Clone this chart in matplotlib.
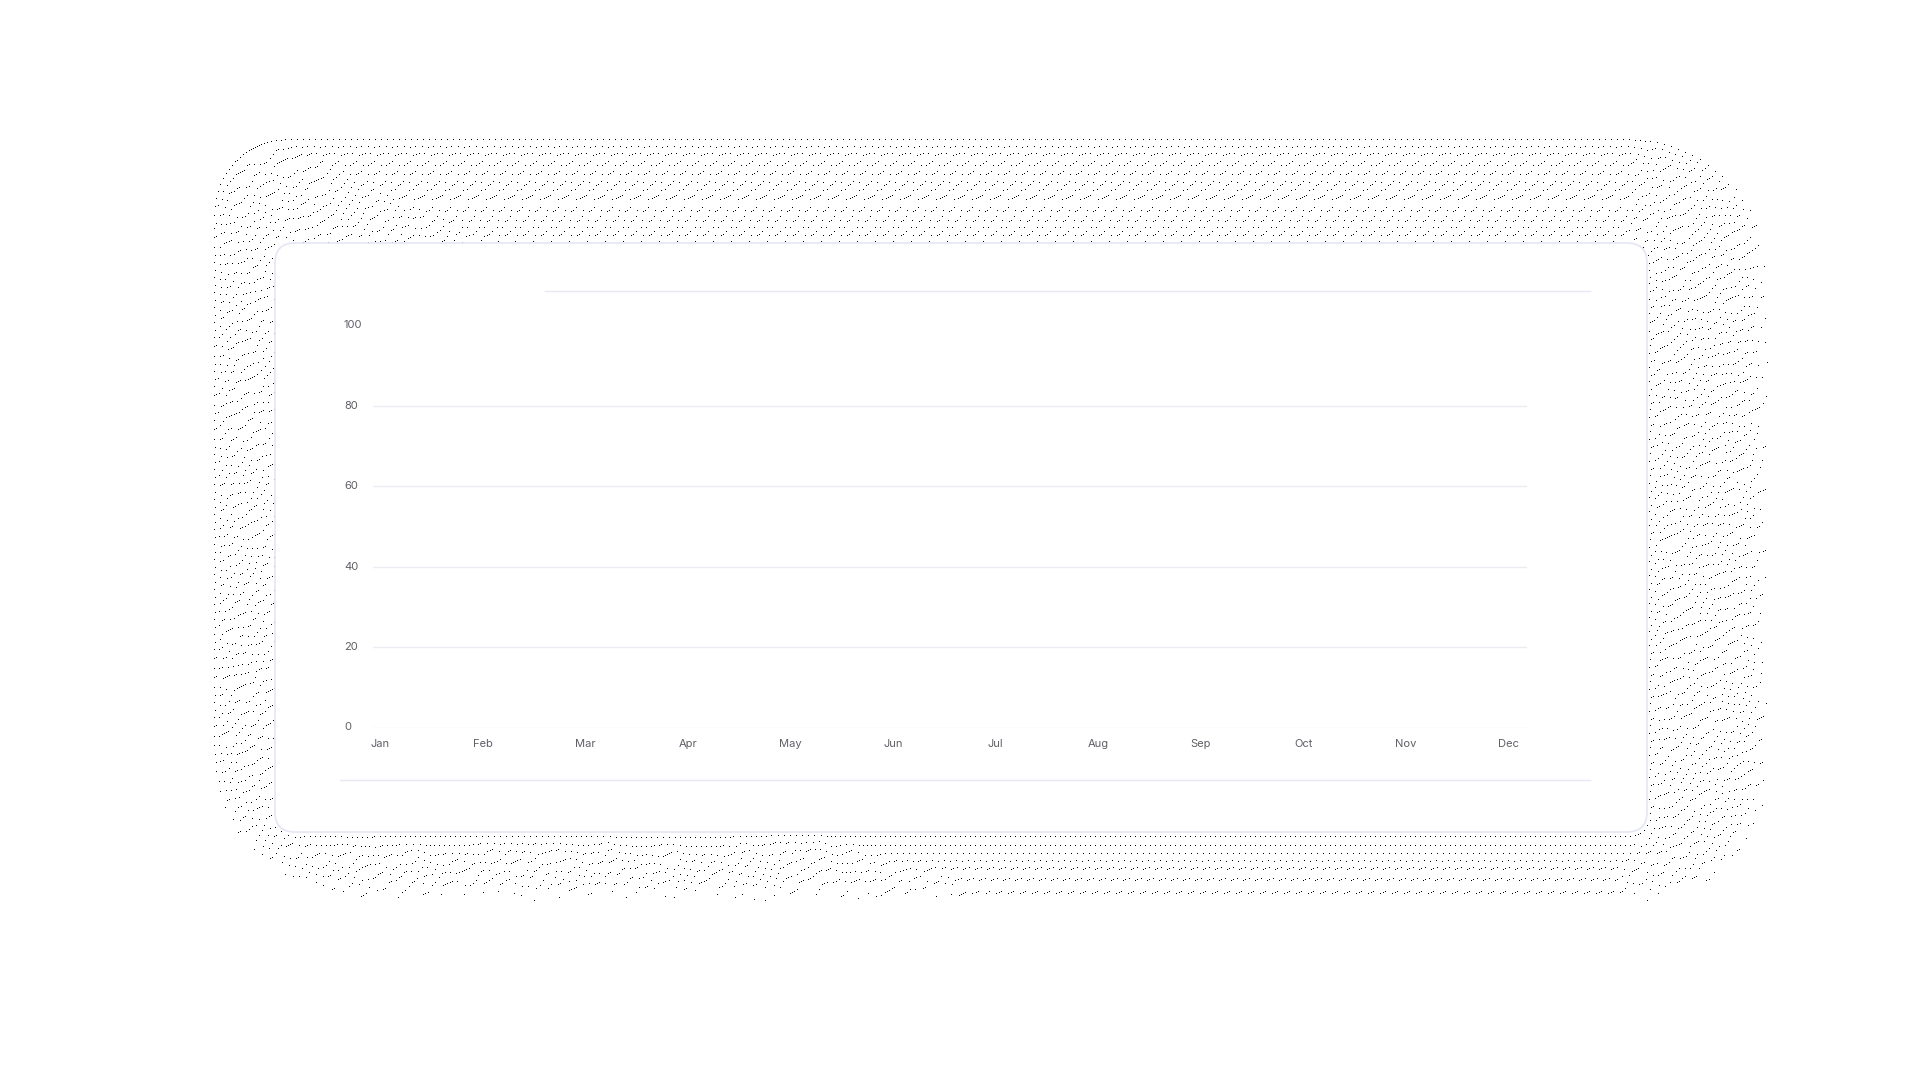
import numpy as np
import matplotlib
matplotlib.use('Agg')
import matplotlib.pyplot as plt
from matplotlib.patches import FancyBboxPatch

# chart content (an empty line chart: only axes, grid and labels are visible)
months = ['Jan', 'Feb', 'Mar', 'Apr', 'May', 'Jun', 'Jul', 'Aug', 'Sep', 'Oct', 'Nov', 'Dec']
y_ticks = [0, 20, 40, 60, 80, 100]
grid_values = [0, 20, 40, 60, 80]

W, H = 1920, 1080
label_color = '#5f5f66'
grid_color = '#ebebf3'
line_color = '#e6e8f6'
plt.rcParams['font.family'] = ['Inter', 'DejaVu Sans']


def rounded_rect_sdf(xx, yy, x0, y0, x1, y1, r):
    # r: one radius, or (top-left, top-right, bottom-right, bottom-left)
    cx, cy = (x0 + x1) / 2, (y0 + y1) / 2
    if np.isscalar(r):
        r = (r, r, r, r)
    rr = np.where(xx < cx, np.where(yy < cy, r[0], r[3]), np.where(yy < cy, r[1], r[2]))
    qx = np.abs(xx - cx) - ((x1 - x0) / 2 - rr)
    qy = np.abs(yy - cy) - ((y1 - y0) / 2 - rr)
    outside = np.hypot(np.maximum(qx, 0), np.maximum(qy, 0))
    inside = np.minimum(np.maximum(qx, qy), 0)
    return outside + inside - rr


def floyd_steinberg(dens):
    # deterministic error diffusion, gives the wavy dot rows of the shadow
    h, w = dens.shape
    out = np.zeros((h, w), dtype=bool)
    cur = dens[0].tolist()
    for y in range(h):
        nxt = dens[y + 1].tolist() if y + 1 < h else [0.0] * w
        hit = []
        for x in range(w):
            v = cur[x]
            if v == 0.0:
                continue
            if v >= 0.5:
                hit.append(x)
                e = v - 1.0
            else:
                e = v
            if x + 1 < w:
                cur[x + 1] += e * 0.4375
                nxt[x + 1] += e * 0.0625
            if x > 0:
                nxt[x - 1] += e * 0.1875
            nxt[x] += e * 0.3125
        out[y, hit] = True
        cur = nxt
    return out


# card geometry in pixels
card_x0, card_y0, card_x1, card_y1 = 275, 243, 1647, 832

# dotted shadow around the card
oy0, oy1, ox0, ox1 = 100, 925, 175, 1795
yy, xx = np.mgrid[oy0:oy1, ox0:ox1].astype(float)
sd = rounded_rect_sdf(xx, yy, 196, 116, 1772, 904, (85, 150, 130, 170))
sd_card = rounded_rect_sdf(xx, yy, card_x0, card_y0, card_x1, card_y1, 20)
dens = 0.023 * np.clip(-sd / 22.0, 0, 1)
dens[sd_card < 0] = 0.0
dots = floyd_steinberg(dens)

img = np.zeros((H, W, 4))
img[oy0:oy1, ox0:ox1, 3] = dots.astype(float)

fig = plt.figure(figsize=(19.2, 10.8), dpi=100)
fig.patch.set_facecolor('white')
fig.figimage(img, xo=0, yo=0, origin='upper', zorder=0)

# background layer in pixel coordinates: card and separator lines
bg = fig.add_axes([0, 0, 1, 1], zorder=1)
bg.set_xlim(0, W)
bg.set_ylim(H, 0)
bg.patch.set_alpha(0)
bg.axis('off')
card = FancyBboxPatch((card_x0, card_y0), card_x1 - card_x0, card_y1 - card_y0,
                      boxstyle='round,pad=0,rounding_size=20',
                      facecolor='white', edgecolor='#e4e6f4', linewidth=1.2)
bg.add_patch(card)
bg.plot([545, 1590], [291, 291], color=line_color, lw=1.0)
bg.plot([340, 1590], [780, 780], color=line_color, lw=1.0)

# chart axes
left, right = 373, 1527
bottom, top = 727.5, 325
jan_px, step = 380, 102.6
ax = fig.add_axes([left / W, 1 - bottom / H, (right - left) / W, (bottom - top) / H], zorder=2)
ax.patch.set_alpha(0)
x = np.arange(len(months))
ax.set_xlim((left - jan_px) / step, (right - jan_px) / step)
ax.set_ylim(0, 100)
for v in grid_values:
    ax.axhline(v, color=grid_color, lw=1.0, zorder=0)
for s in ax.spines.values():
    s.set_visible(False)
ax.set_xticks([])
ax.set_yticks([])

# tick labels
for v in y_ticks:
    ax.text((344 - jan_px) / step, v, str(v), ha='left', va='center', fontsize=8, color=label_color)
for i, m in enumerate(months):
    ax.text(x[i], -4.0, m, ha='center', va='center', fontsize=8, color=label_color)

fig.savefig('out.png', dpi=100, facecolor='white')
